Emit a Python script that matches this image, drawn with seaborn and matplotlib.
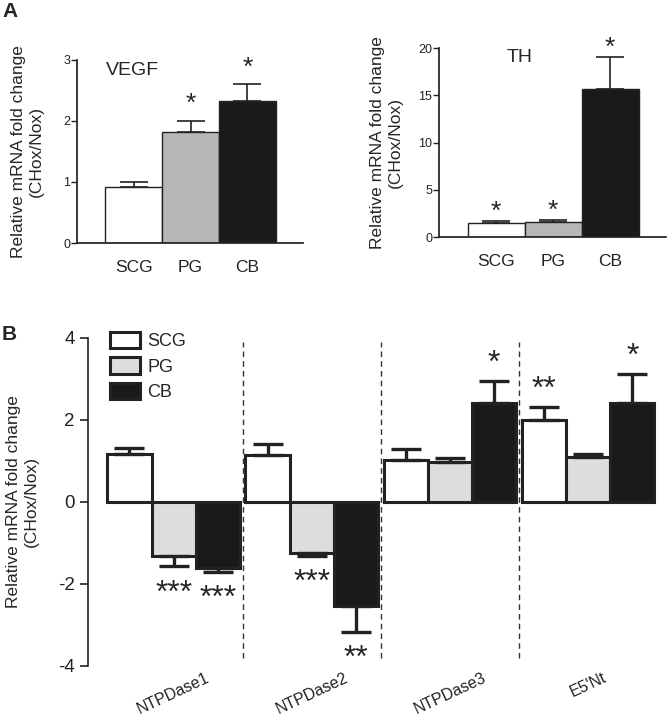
import numpy as np
import pandas as pd
import seaborn as sns
import matplotlib.pyplot as plt

# Panel A data
tissues = ["SCG", "PG", "CB"]
vegf_mean = [0.92, 1.82, 2.33]
vegf_sem = [0.08, 0.18, 0.27]
vegf_stars = ["", "*", "*"]
th_mean = [1.45, 1.60, 15.7]
th_sem = [0.20, 0.20, 3.30]
th_stars = ["*", "*", "*"]

# Panel B data
genes = ["NTPDase1", "NTPDase2", "NTPDase3", "E5'Nt"]
b_scg = [1.16, 1.13, 1.03, 1.99]
b_pg = [-1.32, -1.25, 0.98, 1.10]
b_cb = [-1.61, -2.53, 2.40, 2.42]
b_scg_sem = [0.16, 0.27, 0.25, 0.33]
b_pg_sem = [0.25, 0.07, 0.10, 0.07]
b_cb_sem = [0.10, 0.64, 0.54, 0.70]
b_scg_stars = ["", "", "", "**"]
b_pg_stars = ["***", "***", "", ""]
b_cb_stars = ["***", "**", "*", "*"]

sns.set_theme(style="ticks")
plt.rcParams["font.family"] = ["Liberation Sans", "DejaVu Sans"]
plt.rcParams["axes.edgecolor"] = "#222222"
plt.rcParams["xtick.color"] = "#222222"
plt.rcParams["ytick.color"] = "#222222"

fig = plt.figure(figsize=(6.67, 7.2), dpi=100)
ax1 = fig.add_axes([0.1154, 0.6625, 0.3388, 0.2542])
ax2 = fig.add_axes([0.6582, 0.6708, 0.3403, 0.2625])
ax3 = fig.add_axes([0.1319, 0.075, 0.8636, 0.456])

pal_a = ["#ffffff", "#b6b7b9", "#1a1a1a"]
pal_b = ["#ffffff", "#dcdddf", "#1a1a1a"]
ylabel = "Relative mRNA fold change\n(CHox/Nox)"


def panel_a(ax, mean, sem, stars, ymax, ticks, title, title_xy, star_off,
            lpad):
    df = pd.DataFrame({"tissue": tissues, "value": mean})
    sns.barplot(data=df, x="tissue", y="value", hue="tissue", palette=pal_a,
                width=1.0, edgecolor="#222222", linewidth=1.0,
                legend=False, ax=ax, errorbar=None)
    xs = [p.get_x() + p.get_width() / 2 for p in ax.patches]
    ax.errorbar(xs, mean, yerr=[np.zeros(3), sem], fmt="none",
                ecolor="#222222", elinewidth=1.2, capsize=10, capthick=1.2,
                zorder=1)
    for x, m, s, st in zip(xs, mean, sem, stars):
        ax.text(x, m + s + star_off, st, ha="center", va="bottom",
                fontsize=19, clip_on=False)
    ax.set_ylim(0, ymax)
    ax.set_xlim(-1.0, 2.98)
    ax.set_yticks(ticks)
    ax.tick_params(axis="y", labelsize=9, length=4, width=1, pad=1)
    ax.tick_params(axis="x", labelsize=12.5, length=0, pad=12)
    ax.set_xlabel("")
    ax.set_ylabel(ylabel, fontsize=12.5, labelpad=lpad)
    ax.spines["top"].set_visible(False)
    ax.spines["right"].set_visible(False)
    ax.text(title_xy[0], title_xy[1], title, fontsize=14, ha="center",
            va="center")


panel_a(ax1, vegf_mean, vegf_sem, vegf_stars, 3, [0, 1, 2, 3], "VEGF",
        (-0.03, 2.82), 0.08, 14)
panel_a(ax2, th_mean, th_sem, th_stars, 20, [0, 5, 10, 15, 20], "TH",
        (0.41, 19.0), -0.3, 11)

# Panel B
df_b = pd.DataFrame({
    "gene": genes * 3,
    "tissue": ["SCG"] * 4 + ["PG"] * 4 + ["CB"] * 4,
    "value": b_scg + b_pg + b_cb,
})
sns.barplot(data=df_b, x="gene", y="value", hue="tissue", hue_order=tissues,
            palette=pal_b, width=0.96, edgecolor="#222222", linewidth=2.2,
            errorbar=None, ax=ax3)

sems = [b_scg_sem, b_pg_sem, b_cb_sem]
vals = [b_scg, b_pg, b_cb]
stars = [b_scg_stars, b_pg_stars, b_cb_stars]
for cont, v, s, st in zip(ax3.containers, vals, sems, stars):
    xs = [p.get_x() + p.get_width() / 2 for p in cont.patches]
    v = np.array(v)
    s = np.array(s)
    lower = np.where(v < 0, s, 0)
    upper = np.where(v >= 0, s, 0)
    ax3.errorbar(xs, v, yerr=[lower, upper], fmt="none", ecolor="#222222",
                 elinewidth=2.4, capsize=11, capthick=2.4, zorder=1)
    for x, m, e, t in zip(xs, v, s, st):
        if not t:
            continue
        if m >= 0:
            ax3.text(x, m + e + 0.05, t, ha="center", va="bottom",
                     fontsize=23)
        else:
            ax3.text(x, m - e - 0.3, t, ha="center", va="top", fontsize=23)

ax3.vlines([0.5, 1.5, 2.5], -3.8, 3.9, colors="#333333", linewidth=1.0,
           linestyles=(0, (4, 3)))
ax3.set_ylim(-4, 4)
ax3.set_xlim(-0.62, 3.55)
ax3.set_yticks([-4, -2, 0, 2, 4])
ax3.set_yticklabels(["-4", "-2", "0", "2", "4"])
ax3.tick_params(axis="y", labelsize=13.5, length=6, width=1.2)
ax3.tick_params(axis="x", labelsize=11.5, length=0, pad=3)
for lab in ax3.get_xticklabels():
    lab.set_rotation(25)
    lab.set_ha("center")
ax3.set_xlabel("")
ax3.set_ylabel(ylabel, fontsize=12.5, labelpad=14)
for sp in ["top", "right", "bottom"]:
    ax3.spines[sp].set_visible(False)
ax3.spines["left"].set_linewidth(1.2)

leg = ax3.legend(loc="upper left", bbox_to_anchor=(0.022, 1.045),
                 frameon=False, fontsize=13, handlelength=1.7,
                 handleheight=1.0, labelspacing=0.4, borderpad=0,
                 handletextpad=0.4)

fig.text(0.003, 0.997, "A", fontsize=15, fontweight="bold", va="top")
fig.text(0.003, 0.548, "B", fontsize=15, fontweight="bold", va="top")

fig.savefig("out.png", dpi=100)
